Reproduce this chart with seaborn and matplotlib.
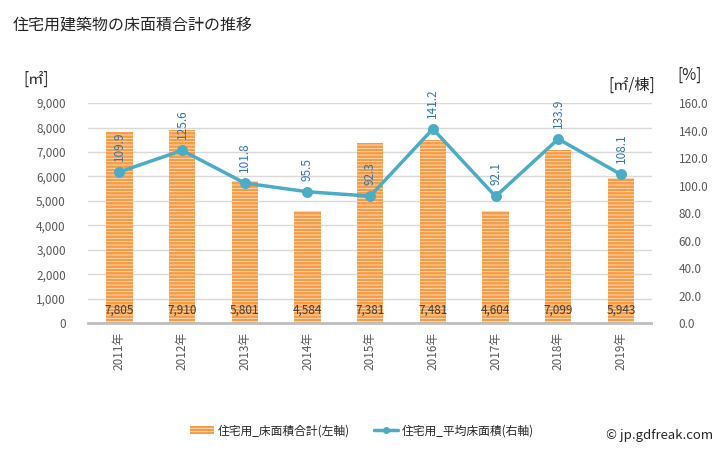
import pandas as pd
import matplotlib
matplotlib.use("Agg")
import matplotlib.pyplot as plt
from matplotlib.patches import Patch, Rectangle
from matplotlib.lines import Line2D
import seaborn as sns

years = ['2011年', '2012年', '2013年', '2014年', '2015年', '2016年', '2017年', '2018年', '2019年']
floor_total = [7805, 7910, 5801, 4584, 7381, 7481, 4604, 7099, 5943]
floor_avg = [109.9, 125.6, 101.8, 95.5, 92.3, 141.2, 92.1, 133.9, 108.1]

bar_color = '#f79b44'
line_color = '#4bacc6'
label_blue = '#2e75b6'
tick_color = '#595959'

sns.set_theme(style='white')
plt.rcParams['font.family'] = ['Noto Sans CJK JP', 'DejaVu Sans']
plt.rcParams['hatch.linewidth'] = 0.6

df = pd.DataFrame({'year': years, 'total': floor_total, 'avg': floor_avg})

fig = plt.figure(figsize=(7.28, 4.5), dpi=100)
ax = fig.add_axes([0.121, 0.282, 0.775, 0.489])

# bars: total floor area (left axis)
sns.barplot(data=df, x='year', y='total', ax=ax, color=bar_color, width=0.42,
            saturation=1, edgecolor='white', linewidth=0)
for p in ax.patches:
    p.set_hatch('-----')
    p.set_edgecolor('#fde3c8')

ax.set_ylim(0, 9000)
ax.set_xlim(-0.5, len(years) - 0.5)
ax.set_yticks(range(0, 9001, 1000))
ax.set_yticklabels([f'{v:,}' for v in range(0, 9001, 1000)])
ax.yaxis.grid(True, color='#d9d9d9', linewidth=1)
ax.set_axisbelow(True)
for s in ['top', 'right', 'left']:
    ax.spines[s].set_visible(False)
ax.spines['bottom'].set_color('#bfbfbf')
ax.spines['bottom'].set_linewidth(2)
ax.tick_params(axis='y', labelsize=8.5, colors=tick_color, length=0, pad=16)
ax.tick_params(axis='x', labelsize=8.5, colors=tick_color, length=0, rotation=90, pad=6)
ax.set_xlabel('')
ax.set_ylabel('')

for i, v in enumerate(floor_total):
    ax.text(i, 250, f'{v:,}', ha='center', va='bottom', fontsize=8.5, color='#404040')

# line: average floor area (right axis)
ax2 = ax.twinx()
sns.pointplot(data=df, x='year', y='avg', ax=ax2, color=line_color,
              markers='o', markersize=6, linewidth=2.5)
ax2.set_ylim(0, 160)
ax2.set_xlim(-0.5, len(years) - 0.5)
ax2.set_yticks(range(0, 161, 20))
ax2.set_yticklabels([f'{v:.1f}' for v in range(0, 161, 20)])
ax2.tick_params(axis='y', labelsize=8.5, colors=tick_color, length=0, pad=19)
ax2.set_ylabel('')
ax2.set_xlabel('')
for sp in ax2.spines.values():
    sp.set_visible(False)

for i, v in enumerate(floor_avg):
    ax2.annotate(f'{v:.1f}', (i, v), xytext=(0, 8), textcoords='offset points',
                 ha='center', va='bottom', rotation=90, fontsize=8.5, color=label_blue)

handles = [
    Patch(facecolor=bar_color, edgecolor='#fde3c8', hatch='-----', linewidth=0),
    Line2D([0], [0], color=line_color, marker='o', markersize=4, linewidth=2.5),
]
fig.legend(handles, ['住宅用_床面積合計(左軸)', '住宅用_平均床面積(右軸)'],
           loc='center', bbox_to_anchor=(0.497, 0.043), ncol=2, frameon=False,
           fontsize=8.5, handlelength=2.1, handletextpad=0.3, columnspacing=2.0)

fig.text(0.018, 0.945, '住宅用建築物の床面積合計の推移', fontsize=11.5, va='center', ha='left')
fig.text(0.032, 0.823, '[㎡]', fontsize=11, va='center', ha='left')
fig.text(0.835, 0.81, '[㎡/棟]', fontsize=11, va='center', ha='left')
fig.text(0.93, 0.832, '[%]', fontsize=11, va='center', ha='left')
fig.text(0.98, 0.032, '© jp.gdfreak.com', fontsize=9.5, ha='right', va='center')

# white strip just right of the plot area, hides a stray grey line seen there
pos = ax.get_position()
fig.add_artist(Rectangle((pos.x1 + 0.6 / 728, pos.y0 - 5 / 450), 6 / 728, pos.height + 10 / 450,
                         transform=fig.transFigure, facecolor='white', edgecolor='none', zorder=10))

fig.savefig('out.png', dpi=100)
